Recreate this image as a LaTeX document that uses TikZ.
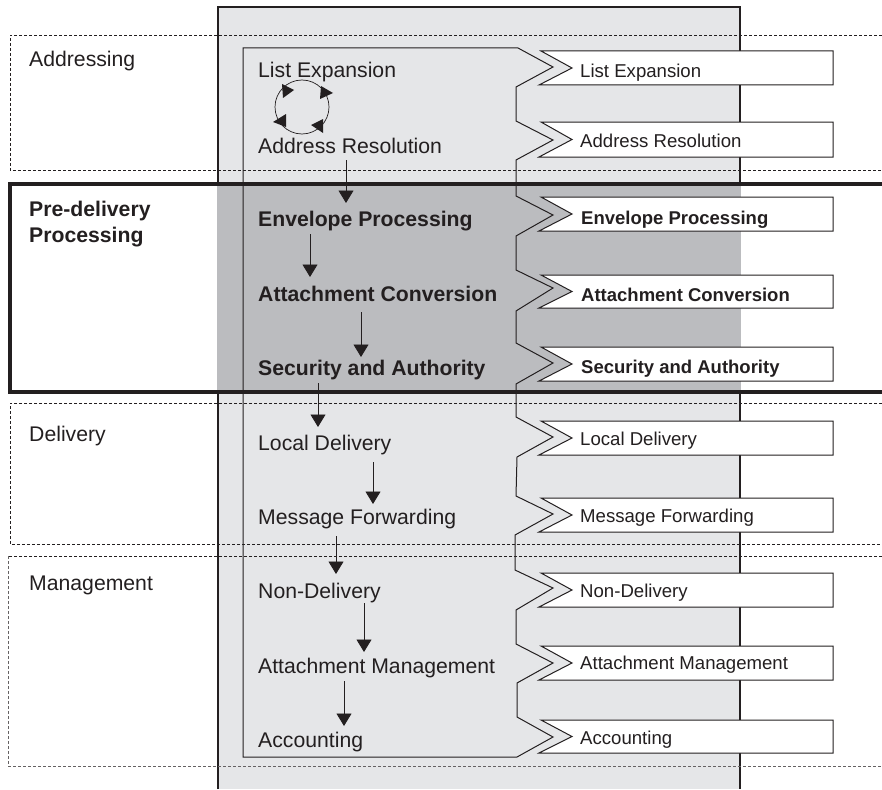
\documentclass[tikz,border=0pt]{standalone}
\usepackage{fontspec}
\setmainfont{Liberation Sans}
\usetikzlibrary{arrows.meta}
\definecolor{panel}{HTML}{E5E6E8}
\definecolor{band}{HTML}{BBBCBF}
\definecolor{ink}{HTML}{231F20}
\tikzset{
  x=1pt,y=-1pt,
  panelline/.style={draw=ink,line width=1.1pt},
  zigline/.style={draw=ink,line width=1pt},
  region/.style={draw=ink,line width=0.8pt,dash pattern=on 3pt off 2pt},
  regionfaint/.style={draw=ink!70!white,line width=1pt,dash pattern=on 3pt off 2pt},
  strong/.style={draw=ink,line width=3.6pt},
  flow/.style={draw=ink,line width=0.9pt,-{Triangle[length=12.5pt,width=15pt]}},
  bigtext/.style={anchor=base west,inner sep=0pt,text=ink,yshift=-1pt,font=\fontsize{21.2}{25}\selectfont},
  bigbold/.style={bigtext,font=\fontsize{21.2}{25}\selectfont\bfseries},
  smalltext/.style={anchor=base west,inner sep=0pt,text=ink,yshift=-0.5pt,font=\fontsize{18.6}{22}\selectfont},
  smallbold/.style={smalltext,font=\fontsize{18.5}{22}\selectfont\bfseries},
  flag/.style={draw=ink,line width=1pt,fill=white},
}
\newcommand{\flagat}[2]{%
  \draw[flag] (833,#1) -- (541,#1) -- (572,{(#1+#2)/2}) -- (539,#2) -- (833,#2) -- cycle;}
\begin{document}
\begin{tikzpicture}
\useasboundingbox (0,0) rectangle (882,789);
% panel
\fill[panel] (218,7) rectangle (740,789);
\draw[panelline] (218,789) -- (218,7) -- (740,7) -- (740,789);
\fill[band] (217.4,185) rectangle (741,391);
% inner zig-zag outline
\draw[zigline] (243,757) -- (243,48) -- (518,48) -- (553,67) -- (516,87) -- (516,121) -- (553,140) -- (516,160)
  -- (516,196) -- (553,215) -- (516,236) -- (516,270) -- (553,288) -- (516,311) -- (516,343) -- (553,363) -- (516,384)
  -- (516,417) -- (553,437) -- (517,457) -- (516,496) -- (553,514) -- (515,535)
  -- (515,570) -- (553,588) -- (516,610) -- (516,644) -- (553,663) -- (517,683) -- (517,717) -- (553,737) -- (517,757) -- cycle;
% regions
\draw[region] (882,35) -- (10,35) -- (10,170) -- (882,170);
\draw[region] (882,403) -- (10,403) -- (10,544) -- (882,544);
\draw[region] (882,556) -- (8,556);
\draw[regionfaint] (8,556) -- (8,766) -- (882,766);
\draw[strong] (882,184) -- (10,184) -- (10,392) -- (882,392);
% flags
\flagat{51}{85}\flagat{122}{157}\flagat{197}{231}\flagat{275}{308}\flagat{347}{381}
\flagat{421}{455}\flagat{498}{532}\flagat{573}{607}\flagat{646}{680}\flagat{720}{753}
% left labels
\node[bigtext] (lAddr) at (29,66) {Addressing};
\node[bigbold] (lPre) at (29,215) {Pre-delivery};
\node[bigbold] (lPre2) at (29,241) {Processing};
\node[bigtext] (lDel) at (29,440) {Delivery};
\node[bigtext] (lMan) at (29,589) {Management};
% steps
\node[bigtext] (s1) at (258,77) {List Expansion};
\node[bigtext] (s2) at (258,152) {Address Resolution};
\node[bigbold] (s3) at (258,225) {Envelope Processing};
\node[bigbold] (s4) at (258,300) {Attachment Conversion};
\node[bigbold] (s5) at (258,374) {Security and Authority};
\node[bigtext] (s6) at (258,449) {Local Delivery};
\node[bigtext] (s7) at (258,523) {Message Forwarding};
\node[bigtext] (s8) at (258,597) {Non-Delivery};
\node[bigtext] (s9) at (258,672) {Attachment Management};
\node[bigtext] (s10) at (258,746) {Accounting};
% flag text
\node[smalltext] (f1) at (580,77) {List Expansion};
\node[smalltext] (f2) at (580,147) {Address Resolution};
\node[smallbold] (f3) at (581,224) {Envelope Processing};
\node[smallbold] (f4) at (581,301) {Attachment Conversion};
\node[smallbold] (f5) at (581,373) {Security and Authority};
\node[smalltext] (f6) at (580,445) {Local Delivery};
\node[smalltext] (f7) at (580,522) {Message Forwarding};
\node[smalltext] (f8) at (580,597) {Non-Delivery};
\node[smalltext] (f9) at (580,669) {Attachment Management};
\node[smalltext] (f10) at (580,744) {Accounting};
% arrows between steps
\coordinate (a2s) at (346,160); \coordinate (a2e) at (346,203);
\draw[flow] (a2s) -- (a2e);
\coordinate (a3s) at (310,234); \coordinate (a3e) at (310,277);
\draw[flow] (a3s) -- (a3e);
\coordinate (a4s) at (361,312); \coordinate (a4e) at (361,357);
\draw[flow] (a4s) -- (a4e);
\coordinate (a5s) at (318,383); \coordinate (a5e) at (318,427);
\draw[flow] (a5s) -- (a5e);
\coordinate (a6s) at (373,462); \coordinate (a6e) at (373,504);
\draw[flow] (a6s) -- (a6e);
\coordinate (a7s) at (336,536); \coordinate (a7e) at (336,574);
\draw[flow] (a7s) -- (a7e);
\coordinate (a8s) at (364,603); \coordinate (a8e) at (364,652);
\draw[flow] (a8s) -- (a8e);
\coordinate (a9s) at (344,681); \coordinate (a9e) at (344,726);
\draw[flow] (a9s) -- (a9e);
% cycle
\coordinate (cyc) at (302,107);
\draw[draw=ink,line width=0.7pt] (cyc) circle (27);
\fill[ink] (282,84) -- (294,90) -- (283,98) -- cycle;
\fill[ink] (321,86) -- (333,93) -- (320,99) -- cycle;
\fill[ink] (273,122) -- (286,114) -- (286,127) -- cycle;
\fill[ink] (311,125) -- (323,119) -- (323,133) -- cycle;
\end{tikzpicture}
\end{document}
